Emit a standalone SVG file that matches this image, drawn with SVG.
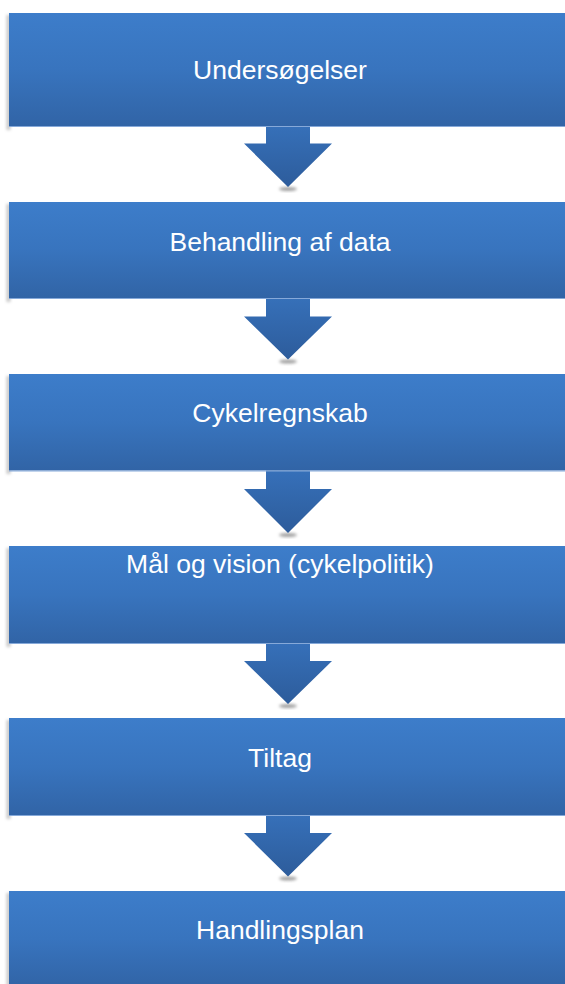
<svg xmlns="http://www.w3.org/2000/svg" width="565" height="984" viewBox="0 0 565 984">
<defs>
<linearGradient id="boxGrad" x1="0" y1="0" x2="0" y2="1">
<stop offset="0" stop-color="#3d7dca"/>
<stop offset="0.5" stop-color="#3874be"/>
<stop offset="1" stop-color="#3164a6"/>
</linearGradient>
<linearGradient id="arrGrad" x1="0" y1="0" x2="0" y2="1">
<stop offset="0" stop-color="#3670b9"/>
<stop offset="1" stop-color="#2d5c9b"/>
</linearGradient>
<filter id="blur" x="-50%" y="-50%" width="200%" height="200%">
<feGaussianBlur stdDeviation="1.5"/>
</filter>
</defs>
<style>
.box{fill:url(#boxGrad)}
.edge{fill:#86a9d9}
.shadow{fill:#c8c8c8;filter:url(#blur)}
.arrow{fill:url(#arrGrad)}
.tipsh{fill:#555;opacity:.55;filter:url(#blur)}
.label{font-family:"Liberation Sans",Arial,sans-serif;font-size:26.5px;fill:#ffffff;text-anchor:middle}
</style>
<rect width="565" height="984" fill="#ffffff"/>
<g id="connectors">
<ellipse class="tipsh" cx="288" cy="189" rx="9" ry="2"/>
<path class="arrow" d="M266,126 H310 V143.5 H332 L288,187 L244,143.5 H266 Z"/>
<ellipse class="tipsh" cx="288" cy="361.5" rx="9" ry="2"/>
<path class="arrow" d="M266,298 H310 V316.5 H332 L288,359.5 L244,316.5 H266 Z"/>
<ellipse class="tipsh" cx="288" cy="535" rx="9" ry="2"/>
<path class="arrow" d="M266,470.5 H310 V489 H332 L288,533 L244,489 H266 Z"/>
<ellipse class="tipsh" cx="288" cy="706" rx="9" ry="2"/>
<path class="arrow" d="M266,643 H310 V661 H332 L288,704 L244,661 H266 Z"/>
<ellipse class="tipsh" cx="288" cy="878.5" rx="9" ry="2"/>
<path class="arrow" d="M266,815 H310 V833 H332 L288,876.5 L244,833 H266 Z"/>
</g>
<g id="node1">
<rect class="shadow" x="6.5" y="15" width="4" height="115"/>
<rect class="box" x="9" y="13" width="560" height="113"/>
<rect class="edge" x="9" y="126" width="560" height="1"/>
<text class="label" x="280" y="79">Undersøgelser</text>
</g>
<g id="node2">
<rect class="shadow" x="6.5" y="204" width="4" height="98"/>
<rect class="box" x="9" y="202" width="560" height="96"/>
<rect class="edge" x="9" y="298" width="560" height="1"/>
<text class="label" x="280" y="251">Behandling af data</text>
</g>
<g id="node3">
<rect class="shadow" x="6.5" y="376" width="4" height="98"/>
<rect class="box" x="9" y="374" width="560" height="96.5"/>
<rect class="edge" x="9" y="470.5" width="560" height="1"/>
<text class="label" x="280" y="422">Cykelregnskab</text>
</g>
<g id="node4">
<rect class="shadow" x="6.5" y="548" width="4" height="99"/>
<rect class="box" x="9" y="546" width="560" height="97"/>
<rect class="edge" x="9" y="643" width="560" height="1"/>
<text class="label" x="280" y="573">Mål og vision (cykelpolitik)</text>
</g>
<g id="node5">
<rect class="shadow" x="6.5" y="720" width="4" height="99"/>
<rect class="box" x="9" y="718" width="560" height="97"/>
<rect class="edge" x="9" y="815" width="560" height="1"/>
<text class="label" x="280" y="767">Tiltag</text>
</g>
<g id="node6">
<rect class="shadow" x="6.5" y="893" width="4" height="95"/>
<rect class="box" x="9" y="891" width="560" height="96"/>
<text class="label" x="280" y="939">Handlingsplan</text>
</g>
</svg>
